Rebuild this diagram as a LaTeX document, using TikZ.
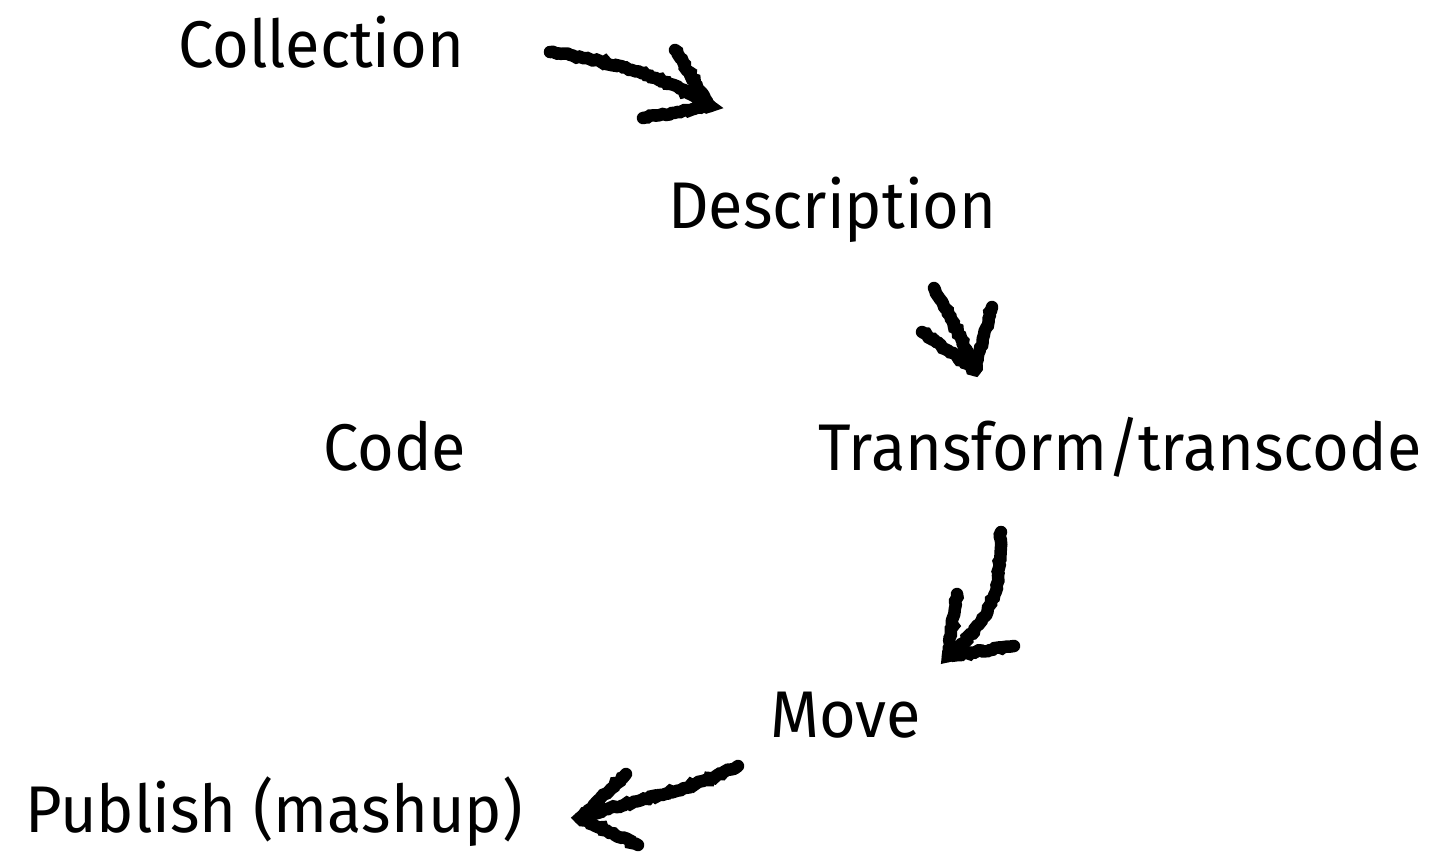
\documentclass[tikz,border=0pt]{standalone}
\usepackage{fontspec}
\setmainfont{Fira Sans}[FakeStretch=0.955]
\usetikzlibrary{decorations.pathmorphing}

\begin{document}
\begin{tikzpicture}[
            x = 1pt, y = -1pt,
            every node/.style={inner sep=0pt, anchor=base west, font=\fontsize{66}{80}\selectfont},
            chalk/.style={line width = 12.5pt, line cap=round, decorate,
                decoration={random steps, segment length=3pt, amplitude=1.2pt}},
            ]
        \useasboundingbox (0,0) rectangle (1435,852);
        % labels
        \node (coll) at (178,67) {Collection};
        \node (desc) at (668,228) {Description};
        \node (code) at (323,470) {Code};
        \node (trans) at (818,470) {Transform/transcode};
        \node (move) at (770,737) {Move};
        \node (pub) at (25,832) {Publish (mashup)};
        % arrow ends
        \coordinate (a1s) at (550,52); \coordinate (a1t) at (710,106);
        \coordinate (a2s) at (934,288); \coordinate (a2t) at (975,370);
        \coordinate (a3s) at (1001,532); \coordinate (a3t) at (948,656);
        \coordinate (a4s) at (738,766); \coordinate (a4t) at (580,818);
        % arrows
        \draw[chalk] (a1s) .. controls (620,62) and (670,80) .. (a1t);
        \draw[chalk] (675,50) -- (a1t) -- (643,118);
        \draw[chalk] (a2s) .. controls (950,315) and (962,340) .. (a2t);
        \draw[chalk] (992,307) -- (a2t) -- (922,332);
        \draw[chalk] (a3s) .. controls (1000,600) and (990,620) .. (a3t);
        \draw[chalk] (957,594) -- (a3t) -- (1014,646);
        \draw[chalk] (a4s) .. controls (680,795) and (630,800) .. (a4t);
        \draw[chalk] (626,774) -- (a4t) -- (638,845);
    \end{tikzpicture}
\end{document}
